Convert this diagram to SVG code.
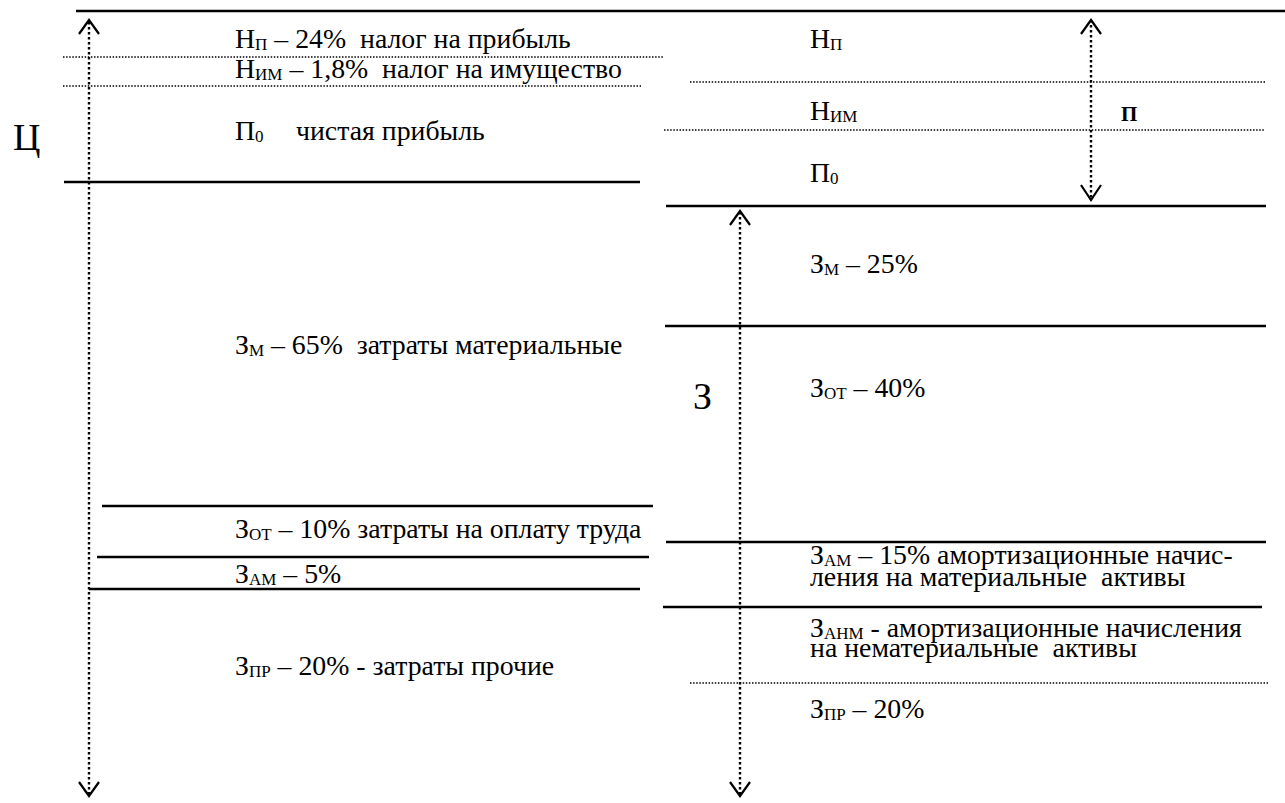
<svg xmlns="http://www.w3.org/2000/svg" width="1285" height="803" viewBox="0 0 1285 803">
<style>
  .t { font-family: "Liberation Serif", "Times New Roman", serif; font-size: 27.8px; fill: #000; white-space: pre; }
  .s { font-size: 17px; }
  .big { font-family: "Liberation Serif", "Times New Roman", serif; font-size: 38px; fill: #000; }
  .bold { font-family: "Liberation Serif", "Times New Roman", serif; font-size: 21px; font-weight: bold; fill: #000; }
  .solid { stroke: #000; stroke-width: 2.5; fill: none; }
  .dot { stroke: #000; stroke-width: 1.5; stroke-dasharray: 1.5 1.6; fill: none; }
  .vdot { stroke: #000; stroke-width: 2.4; stroke-dasharray: 2.4 2.6; fill: none; }
  .head { stroke: #000; stroke-width: 2.2; fill: none; stroke-linejoin: miter; }
</style>
<rect width="1285" height="803" fill="#fff"/>

<g id="lines">
  <line class="solid" x1="76" y1="11" x2="1285" y2="11"/>
  <line class="dot" x1="63" y1="57" x2="664" y2="57"/>
  <line class="dot" x1="63" y1="86" x2="641" y2="86"/>
  <line class="solid" x1="64" y1="182" x2="640" y2="182"/>
  <line class="solid" x1="102" y1="506" x2="653" y2="506"/>
  <line class="solid" x1="97" y1="557" x2="649" y2="557"/>
  <line class="solid" x1="89" y1="589" x2="640" y2="589"/>
  <line class="dot" x1="690" y1="82" x2="1266" y2="82"/>
  <line class="dot" x1="664" y1="130" x2="1264" y2="130"/>
  <line class="solid" x1="666" y1="206" x2="1266" y2="206"/>
  <line class="solid" x1="665" y1="326" x2="1266" y2="326"/>
  <line class="solid" x1="666" y1="542" x2="1266" y2="542"/>
  <line class="solid" x1="663" y1="607" x2="1262" y2="607"/>
  <line class="dot" x1="690" y1="683" x2="1268" y2="683"/>
</g>

<g id="connectors">
  <g id="arrow-c">
    <line class="vdot" x1="89" y1="22" x2="89" y2="794"/>
    <polyline class="head" points="79,34 89,20 99,34"/>
    <polyline class="head" points="79,782 89,796 99,782"/>
  </g>
  <g id="arrow-p">
    <line class="vdot" x1="1091" y1="20" x2="1091" y2="198"/>
    <polyline class="head" points="1081,34 1091,20 1101,34"/>
    <polyline class="head" points="1081,185 1091,200 1101,185"/>
  </g>
  <g id="arrow-z">
    <line class="vdot" x1="740" y1="212" x2="740" y2="794"/>
    <polyline class="head" points="730,225 740,211 750,225"/>
    <polyline class="head" points="730,782 740,796 750,782"/>
  </g>
</g>

<g id="label-c"><text class="big" x="13" y="150">Ц</text></g>
<g id="label-z"><text class="big" x="693" y="409">З</text></g>
<g id="label-p"><text class="bold" x="1121" y="121">П</text></g>

<g id="left-np"><text class="t" x="235" y="48">Н<tspan class="s" dy="2">П</tspan><tspan dy="-2"> – 24%  налог на прибыль</tspan></text></g>
<g id="left-nim"><text class="t" x="235" y="78">Н<tspan class="s" dy="2">ИМ</tspan><tspan dy="-2"> – 1,8%  налог на имущество</tspan></text></g>
<g id="left-p0"><text class="t" x="235" y="140">П<tspan class="s" dy="2">0</tspan><tspan x="296" dy="-2">чистая прибыль</tspan></text></g>
<g id="left-zm"><text class="t" x="235" y="354">З<tspan class="s" dy="2">М</tspan><tspan dy="-2"> – 65%  затраты материальные</tspan></text></g>
<g id="left-zot"><text class="t" x="235" y="538">З<tspan class="s" dy="2">ОТ</tspan><tspan dy="-2"> – 10% затраты на оплату труда</tspan></text></g>
<g id="left-zam"><text class="t" x="235" y="583">З<tspan class="s" dy="2">АМ</tspan><tspan dy="-2"> – 5%</tspan></text></g>
<g id="left-zpr"><text class="t" x="235" y="675">З<tspan class="s" dy="2">ПР</tspan><tspan dy="-2"> – 20% - затраты прочие</tspan></text></g>

<g id="right-np"><text class="t" x="810" y="48">Н<tspan class="s" dy="2">П</tspan></text></g>
<g id="right-nim"><text class="t" x="810" y="120">Н<tspan class="s" dy="2">ИМ</tspan></text></g>
<g id="right-p0"><text class="t" x="810" y="182">П<tspan class="s" dy="2">0</tspan></text></g>
<g id="right-zm"><text class="t" x="810" y="273">З<tspan class="s" dy="2">М</tspan><tspan dy="-2"> – 25%</tspan></text></g>
<g id="right-zot"><text class="t" x="810" y="397">З<tspan class="s" dy="2">ОТ</tspan><tspan dy="-2"> – 40%</tspan></text></g>
<g id="right-zam"><text class="t" x="810" y="564">З<tspan class="s" dy="2">АМ</tspan><tspan dy="-2"> – 15% амортизационные начис-</tspan><tspan x="810" dy="22">ления на материальные  активы</tspan></text></g>
<g id="right-zanm"><text class="t" x="810" y="637">З<tspan class="s" dy="2">АНМ</tspan><tspan dy="-2"> - амортизационные начисления</tspan><tspan x="810" dy="20">на нематериальные  активы</tspan></text></g>
<g id="right-zpr"><text class="t" x="810" y="718">З<tspan class="s" dy="2">ПР</tspan><tspan dy="-2"> – 20%</tspan></text></g>
</svg>
